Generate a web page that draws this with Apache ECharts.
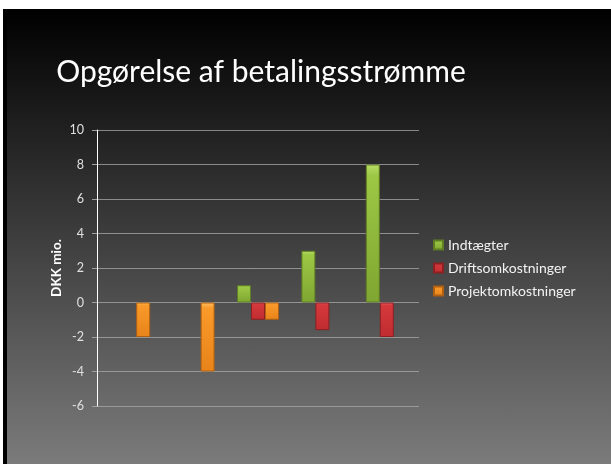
<!DOCTYPE html>
<html>
<head>
<meta charset="utf-8">
<script src="https://cdn.jsdelivr.net/npm/echarts@6/dist/echarts.min.js"></script>
<style>
html,body{margin:0;padding:0;width:611px;height:464px;overflow:hidden;background:#fff;}
#frame{position:absolute;left:3px;top:9px;width:608px;height:455px;background:#000;}
#slide{position:absolute;left:7px;top:9px;width:604px;height:455px;background:linear-gradient(to bottom,#000 0%,#7b7b7b 100%);}
#chart{position:absolute;left:0;top:0;width:611px;height:464px;}
</style>
</head>
<body>
<div id="frame"></div>
<div id="slide"></div>
<div id="chart"></div>
<script>
var titleText = 'Opgørelse af betalingsstrømme';
var categories = ['1', '2', '3', '4', '5'];
var seriesNames = ['Indtægter', 'Driftsomkostninger', 'Projektomkostninger'];
var indtaegter = ['-', '-', 1, 3, 8];
var drift = ['-', '-', -1, -1.6, -2];
var projekt = [-2, -4, -1, '-', '-'];
var yAxisName = 'DKK mio.';

var font = 'Lato';
function grad(top, mid, bot) {
  return new echarts.graphic.LinearGradient(0, 0, 0, 1, [
    {offset: 0, color: top}, {offset: 0.08, color: mid}, {offset: 1, color: bot}
  ]);
}
var styles = [
  {color: grad('#b9dd66', '#9cc845', '#7fa631'), borderColor: '#5f7d22'},
  {color: grad('#e8686a', '#d5393c', '#bf2c30'), borderColor: '#8e2022'},
  {color: grad('#ffc060', '#fa9a2a', '#e8841a'), borderColor: '#b06010'}
];
var datas = [indtaegter, drift, projekt];

var chart = echarts.init(document.getElementById('chart'), null, {renderer: 'canvas'});
chart.setOption({
  backgroundColor: 'transparent',
  animation: false,
  graphic: [{
    type: 'text', x: 261, y: 72,
    style: {text: titleText, fill: '#ffffff', font: '30px Lato', textAlign: 'center', textVerticalAlign: 'middle'}
  }],
  grid: {left: 97, right: 192, top: 130, bottom: 58},
  legend: {
    orient: 'vertical', left: 433, top: 238, padding: 0,
    itemWidth: 9, itemHeight: 9, itemGap: 9, itemTextGap: 6,
    icon: 'rect',
    textStyle: {color: '#f2f2f2', fontSize: 14, fontFamily: font},
    data: seriesNames
  },
  xAxis: {
    type: 'category', data: categories,
    axisLine: {show: false}, axisTick: {show: false}, axisLabel: {show: false}
  },
  yAxis: {
    type: 'value', min: -6, max: 10, interval: 2,
    name: yAxisName, nameLocation: 'middle', nameGap: 33, nameRotate: 90,
    nameMoveOverlap: false,
    nameTextStyle: {color: '#ffffff', fontSize: 13.5, fontWeight: 'bold', fontFamily: font},
    axisLine: {show: true, lineStyle: {color: '#ffffff', width: 1}},
    axisTick: {show: true, length: 5, lineStyle: {color: '#a0a0a0'}},
    axisLabel: {color: '#e0e0e0', fontSize: 12.5, fontFamily: font, margin: 13},
    splitLine: {show: true, lineStyle: {color: 'rgba(170,170,170,0.75)', width: 1}}
  },
  series: seriesNames.map(function (n, i) {
    return {
      name: n, type: 'bar', data: datas[i], barWidth: 14, barGap: '0%',
      itemStyle: {color: styles[i].color, borderColor: styles[i].borderColor, borderWidth: 1},
      emphasis: {disabled: true}
    };
  })
});
</script>
</body>
</html>
